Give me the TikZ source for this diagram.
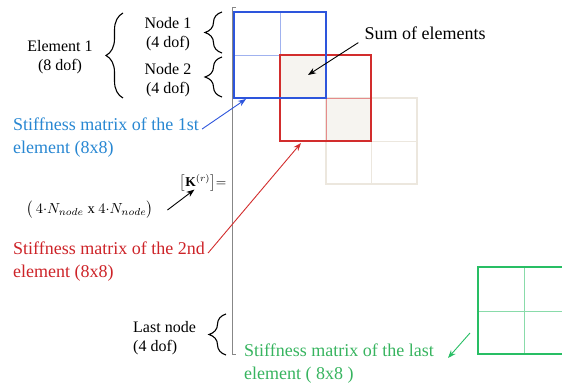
\documentclass[tikz,border=0pt]{standalone}
\usepackage{fontspec}
\setmainfont{Liberation Serif}
\usetikzlibrary{decorations.pathreplacing,arrows.meta}
\definecolor{blueBox}{RGB}{45,85,220}
\definecolor{blueTxt}{RGB}{40,135,210}
\definecolor{redBox}{RGB}{210,45,45}
\definecolor{redTxt}{RGB}{205,35,40}
\definecolor{greenBox}{RGB}{40,190,100}
\definecolor{greenTxt}{RGB}{55,180,95}
\definecolor{faintBox}{RGB}{236,231,222}
\definecolor{sumFill}{RGB}{246,244,240}
\definecolor{railGray}{RGB}{135,135,135}
\tikzset{
  curly/.style={decorate, decoration={brace, amplitude=17pt}, line width=1.1pt},
  lbl/.style={font=\fontsize{16}{19.5}\selectfont, align=center},
  stiffcap/.style={font=\fontsize{18}{23}\selectfont, align=left, anchor=west, inner sep=0pt},
  ptr/.style={-{Stealth[length=8pt,width=6pt]}, line width=0.9pt}
}
\begin{document}
\begin{tikzpicture}[x=1pt, y=1pt]
    \clip (0,0) rectangle (562,-387);
    % Shaded cells where the elements add up
    \fill[sumFill] (280,-55) rectangle (326,-98);
    \fill[sumFill] (326,-98) rectangle (371,-141);
    % Next element (faint)
    \draw[faintBox, line width=1.5pt] (326,-98) rectangle (417,-184);
    \draw[faintBox] (371,-98) -- (371,-184) (326,-141) -- (417,-141);
    % First element
    \draw[blueBox!45, line width=0.8pt] (280,-12) -- (280,-98) (234,-55) -- (326,-55);
    % Second element
    \draw[redBox!55, line width=0.8pt] (326,-55) -- (326,-141) (280,-98) -- (371,-98);
    \draw[redBox, line width=1.5pt] (280,-55) rectangle (371,-141);
    \draw[blueBox, line width=1.5pt] (234,-12) rectangle (326,-98);
    % Last element
    \draw[greenBox!55, line width=0.8pt] (524,-267) -- (524,-354) (478,-311) -- (570,-311);
    \draw[greenBox, line width=1.5pt] (478,-267) rectangle (570,-354);
    % Left rail of the global matrix
    \draw[railGray, line width=1pt] (236,-8) -- (232,-8) -- (232,-354) -- (236,-354);
    % Braces
    \draw[curly] (123,-98) -- (123,-13);
    \draw[curly] (222,-53) -- (222,-12);
    \draw[curly] (222,-97) -- (222,-57);
    \draw[curly] (226,-355) -- (226,-314);
    % Labels
    \node[lbl] (elem) at (60,-57) {Element 1\\(8 dof)};
    \node[lbl] (nodeA) at (168,-34) {Node 1\\(4 dof)};
    \node[lbl] (nodeB) at (168,-80) {Node 2\\(4 dof)};
    \node[lbl, align=left, anchor=west, inner sep=0pt] (nodeL) at (133,-338) {Last node\\(4 dof)};
    \node[font=\fontsize{18}{22}\selectfont, inner sep=0pt] (sum) at (425,-33) {Sum of elements};
    \node[scale=1.35, inner sep=0pt] (kmat) at (203,-183) {$\bigl[\mathbf{K}^{(r)}\bigr]{=}$};
    \node[scale=1.45, inner sep=0pt] (ksize) at (90,-210) {$\bigl(\,4{\cdot}N_{node}\ \mathrm{x}\ 4{\cdot}N_{node}\bigr)$};
    \node[stiffcap, text=blueTxt] (cap1) at (13,-138) {Stiffness matrix of the 1st\\element (8x8)};
    \node[stiffcap, text=redTxt] (cap2) at (13,-262) {Stiffness matrix of the 2nd\\element (8x8)};
    \node[stiffcap, text=greenTxt] (capL) at (244,-364) {Stiffness matrix of the last\\element ( 8x8 )};
    % Arrow ends
    \coordinate (sumTip) at (308,-75);
    \coordinate (tip1) at (246,-99);
    \coordinate (tip2) at (301,-143);
    \coordinate (tipL) at (448,-358);
    % Arrows
    \draw[ptr] ([shift={(-6,-3)}]sum.south west) -- (sumTip);
    \draw[ptr, blueBox] ([shift={(3,-11)}]cap1.north east) -- (tip1);
    \draw[ptr, redBox] ([shift={(3,-11)}]cap2.north east) -- (tip2);
    \draw[ptr, greenBox] (470,-333) -- (tipL);
    \draw[ptr] ([xshift=14pt]ksize.east) -- ([shift={(15,2)}]kmat.south west);
\end{tikzpicture}
\end{document}
